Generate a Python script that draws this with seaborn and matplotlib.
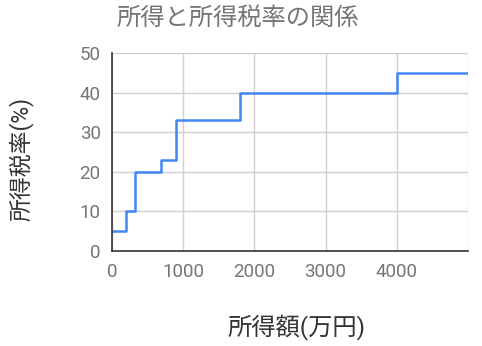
import matplotlib
matplotlib.use("Agg")
import matplotlib.pyplot as plt
import seaborn as sns
import pandas as pd

income = [0, 195, 330, 695, 900, 1800, 4000, 5000]
rate = [5, 10, 20, 23, 33, 40, 45, 45]
x_ticks = [0, 1000, 2000, 3000, 4000]
y_ticks = [0, 10, 20, 30, 40, 50]
title = "所得と所得税率の関係"
xlabel = "所得額(万円)"
ylabel = "所得税率(%)"

sns.set_theme(style="white")
plt.rcParams['font.family'] = ['Roboto', 'Noto Sans CJK JP', 'DejaVu Sans']

df = pd.DataFrame({"income": income, "rate": rate})
fig = plt.figure(figsize=(4.82, 3.46), dpi=100)
ax = fig.add_axes([0.232, 0.275, 0.739, 0.572])
sns.lineplot(data=df, x="income", y="rate", ax=ax, drawstyle="steps-post",
             color="#4285F4", linewidth=1.8)
ax.set_xlim(0, 5000)
ax.set_ylim(0, 50)
ax.set_xticks(x_ticks)
ax.set_yticks(y_ticks)
ax.set_xticks([5000], minor=True)
ax.grid(True, which="both", color="#d0d0d0", linewidth=1)
for s in ["top", "right"]:
    ax.spines[s].set_visible(False)
for s in ["left", "bottom"]:
    ax.spines[s].set_color("#333333")
    ax.spines[s].set_linewidth(1.2)
ax.tick_params(axis="x", which="both", length=0, labelsize=13.5,
               labelcolor="#757575", pad=9)
ax.tick_params(axis="y", which="both", length=0, labelsize=13.5,
               labelcolor="#757575", pad=8)
ax.set_xlabel("")
ax.set_ylabel("")
fig.text(0.616, 0.055, xlabel, ha="center", va="center", fontsize=17.5, color="#333333")
fig.text(0.044, 0.54, ylabel, ha="center", va="center", rotation=90, fontsize=16.5, color="#333333")
fig.text(0.494, 0.948, title, ha="center", va="center", fontsize=17.5, color="#757575")
fig.savefig("out.png", dpi=100, facecolor="white")
